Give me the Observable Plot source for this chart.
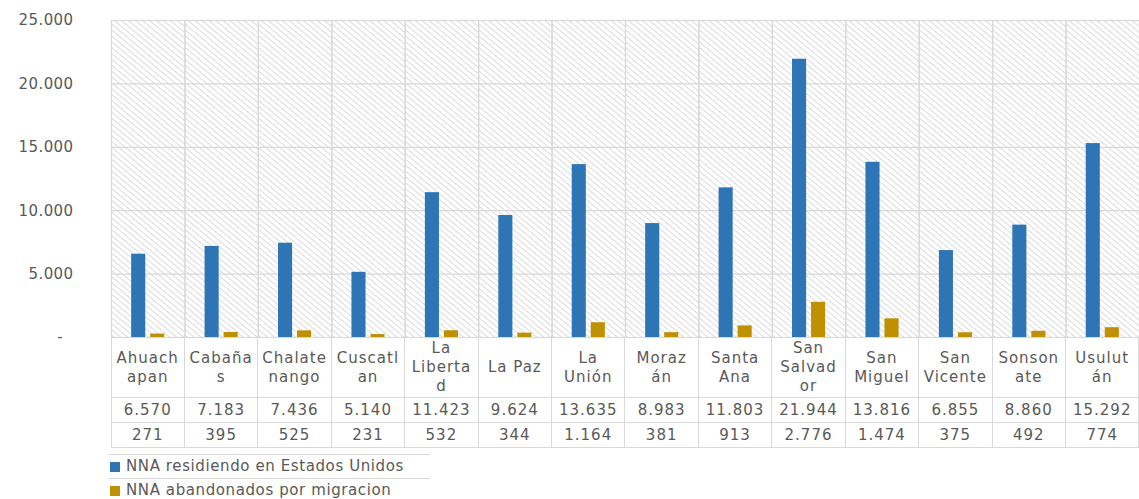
<!DOCTYPE html>
<html><head><meta charset="utf-8">
<script src="https://cdn.jsdelivr.net/npm/d3@7"></script>
<script src="https://cdn.jsdelivr.net/npm/@observablehq/plot@0.6"></script>
<style>
body{margin:0;background:#fff;font-family:"DejaVu Sans",sans-serif;color:#595959;}
#wrap{position:relative;width:1139px;height:499px;overflow:hidden;}
#chart{position:absolute;left:0;top:0;}
table{position:absolute;border-collapse:collapse;table-layout:fixed;font-size:15px;letter-spacing:1px;color:#595959;}
td{border:1px solid #d9d9d9;text-align:center;padding:0;white-space:pre-line;line-height:19px;overflow:hidden;}
tr.lab td{height:59px;}
tr.val td{height:24px;}
#legend{position:absolute;font-size:15px;letter-spacing:0.6px;color:#595959;}
#legend .item{border-top:1px solid #d9d9d9;height:23px;line-height:23px;display:flex;align-items:center;white-space:nowrap;}
#legend .sw{width:10px;height:10px;margin:0 6px 0 2px;display:inline-block;}
</style></head><body><div id="wrap"><div id="chart"></div></div>
<script>
const departamentos = ["Ahuachapan","Cabañas","Chalatenango","Cuscatlan","La Libertad","La Paz","La Unión","Morazán","Santa Ana","San Salvador","San Miguel","San Vicente","Sonsonate","Usulután"];
const etiquetas = ["Ahuach\napan","Cabaña\ns","Chalate\nnango","Cuscatl\nan","La\nLiberta\nd","La Paz","La\nUnión","Moraz\nán","Santa\nAna","San\nSalvad\nor","San\nMiguel","San\nVicente","Sonson\nate","Usulut\nán"];
const residiendoEEUU = [6570,7183,7436,5140,11423,9624,13635,8983,11803,21944,13816,6855,8860,15292];
const abandonados = [271,395,525,231,532,344,1164,381,913,2776,1474,375,492,774];
const series = ["NNA residiendo en Estados Unidos","NNA abandonados por migracion"];
const colores = ["#2E75B6","#BF9000"];
const yTicks = [0,5000,10000,15000,20000,25000];

const valoresPorSerie = [residiendoEEUU, abandonados];
const datos = [];
departamentos.forEach((d,i)=>{
  series.forEach((s,j)=>datos.push({dep:d, serie:s, valor:valoresPorSerie[j][i]}));
});

const fmt = d3.formatLocale({decimal:",",thousands:".",grouping:[3],currency:["",""]}).format(",d");

const plot = Plot.plot({
  width:1139, height:345, marginLeft:111, marginRight:0, marginTop:20, marginBottom:8,
  style:{fontFamily:"DejaVu Sans", fontSize:"15px", color:"#595959", background:"transparent", letterSpacing:"0.4px", overflow:"visible"},
  fx:{domain:departamentos, padding:0, round:false, axis:null},
  x:{domain:series, paddingInner:0.26, paddingOuter:1.06, round:false, axis:null},
  y:{domain:[0,25000], ticks:yTicks, tickFormat:d=> d===0 ? "-\u00a0\u00a0" : fmt(d), tickSize:0, tickPadding:38, label:null},
  color:{domain:series, range:colores},
  marks:[
    Plot.frame({fill:"url(#hatch)", stroke:null}),
    Plot.gridY(yTicks, {stroke:"#d9d9d9", strokeOpacity:1, strokeWidth:1.2}),
    Plot.frame({stroke:"#d9d9d9", strokeWidth:1.2}),
    Plot.barY(datos, {fx:"dep", x:"serie", y:"valor", fill:"serie"})
  ]
});

const svg = d3.select(plot);
const defs = svg.insert("defs", ":first-child");
const pat = defs.append("pattern").attr("id","hatch").attr("patternUnits","userSpaceOnUse")
  .attr("width",4.5).attr("height",4.5).attr("patternTransform","rotate(40)");
pat.append("rect").attr("width",4.5).attr("height",4.5).attr("fill","#fff");
pat.append("line").attr("x1",0).attr("y1",0.6).attr("x2",4.5).attr("y2",0.6).attr("stroke","#d9d9d9").attr("stroke-width",1);
document.getElementById("chart").appendChild(plot);

// data table aligned with the fx band scale
const fx = plot.scale("fx");
const colW = fx.bandwidth;
const left = fx.apply(departamentos[0]);
const table = document.createElement("table");
table.style.left = (left - 0.5) + "px";
table.style.top = "337px";
table.style.width = (colW*departamentos.length) + "px";
const cg = document.createElement("colgroup");
departamentos.forEach(()=>{const c=document.createElement("col"); c.style.width=colW+"px"; cg.appendChild(c);});
table.appendChild(cg);
const filas = [["lab", etiquetas], ["val", residiendoEEUU.map(fmt)], ["val", abandonados.map(fmt)]];
filas.forEach(([cls, arr])=>{
  const tr = document.createElement("tr"); tr.className = cls;
  arr.forEach(v=>{const td=document.createElement("td"); td.textContent=v; tr.appendChild(td);});
  table.appendChild(tr);
});
document.getElementById("wrap").appendChild(table);

// legend
const leg = document.createElement("div");
leg.id = "legend";
leg.style.left = "108px"; leg.style.top = "454px"; leg.style.width = "322px";
series.forEach((s,i)=>{
  const it = document.createElement("div"); it.className="item";
  const sw = document.createElement("span"); sw.className="sw"; sw.style.background=colores[i];
  it.appendChild(sw); it.appendChild(document.createTextNode(s));
  leg.appendChild(it);
});
document.getElementById("wrap").appendChild(leg);
</script></body></html>
